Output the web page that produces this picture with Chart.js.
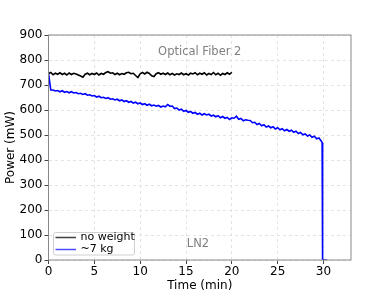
<!DOCTYPE html>
<html>
<head>
<meta charset="utf-8">
<script src="https://cdn.jsdelivr.net/npm/chart.js@4.4.1/dist/chart.umd.min.js"></script>
<style>
  body { margin: 0; background: #fff; }
  #wrap { width: 390px; height: 293px; }
</style>
</head>
<body>
<div id="wrap"><canvas id="powerChart" width="390" height="293"></canvas></div>
<script>
// sampling times (min) and measured power (mW)
const timeNoWeight = [
  0, 0.25, 0.5, 0.75, 1, 1.25, 1.5, 1.75, 2, 2.25, 2.5, 2.75, 3, 3.25, 3.5, 3.75,
  4, 4.25, 4.5, 4.75, 5, 5.25, 5.5, 5.75, 6, 6.25, 6.5, 6.75, 7, 7.25, 7.5, 7.75,
  8, 8.25, 8.5, 8.75, 9, 9.25, 9.5, 9.75, 10, 10.25, 10.5, 10.75, 11, 11.25, 11.5, 11.75,
  12, 12.25, 12.5, 12.75, 13, 13.25, 13.5, 13.75, 14, 14.25, 14.5, 14.75, 15, 15.25, 15.5, 15.75,
  16, 16.25, 16.5, 16.75, 17, 17.25, 17.5, 17.75, 18, 18.25, 18.5, 18.75, 19, 19.25, 19.5, 19.75, 20,
];
const powerNoWeight = [
  746, 750, 741, 747, 743, 749, 742, 747, 740, 748, 742, 747, 744, 740, 736, 731,
  743, 747, 741, 746, 742, 748, 740, 746, 743, 750, 753, 747, 749, 742, 747, 741,
  746, 743, 749, 751, 745, 747, 738, 730, 745, 750, 744, 751, 746, 737, 734, 745,
  749, 743, 747, 742, 748, 741, 746, 740, 745, 742, 748, 741, 745, 740, 747, 744,
  749, 741, 747, 743, 749, 740, 746, 742, 750, 741, 747, 739, 746, 742, 749, 743, 751,
];

const timeWeight = [
  0, 0.25, 0.5, 0.75, 1, 1.25, 1.5, 1.75, 2, 2.25, 2.5, 2.75, 3, 3.25, 3.5, 3.75,
  4, 4.25, 4.5, 4.75, 5, 5.25, 5.5, 5.75, 6, 6.25, 6.5, 6.75, 7, 7.25, 7.5, 7.75,
  8, 8.25, 8.5, 8.75, 9, 9.25, 9.5, 9.75, 10, 10.25, 10.5, 10.75, 11, 11.25, 11.5, 11.75,
  12, 12.25, 12.5, 12.75, 13, 13.25, 13.5, 13.75, 14, 14.25, 14.5, 14.75, 15, 15.25, 15.5, 15.75,
  16, 16.25, 16.5, 16.75, 17, 17.25, 17.5, 17.75, 18, 18.25, 18.5, 18.75, 19, 19.25, 19.5, 19.75,
  20, 20.25, 20.5, 20.75, 21, 21.25, 21.5, 21.75, 22, 22.25, 22.5, 22.75, 23, 23.25, 23.5, 23.75,
  24, 24.25, 24.5, 24.75, 25, 25.25, 25.5, 25.75, 26, 26.25, 26.5, 26.75, 27, 27.25, 27.5, 27.75,
  28, 28.25, 28.5, 28.75, 29, 29.25, 29.5, 29.75, 29.85, 29.9, 30.4,
];
const powerWeight = [
  748, 680, 680, 676, 678, 673, 677, 671, 674, 669, 673, 668, 670, 665, 667, 662,
  665, 659, 661, 656, 658, 652, 655, 649, 651, 646, 649, 643, 645, 640, 643, 637,
  640, 634, 637, 631, 634, 628, 631, 625, 628, 622, 625, 619, 623, 617, 620, 615,
  618, 612, 616, 613, 622, 615, 616, 606, 608, 600, 603, 595, 598, 591, 594, 587,
  590, 583, 587, 580, 585, 580, 583, 576, 579, 573, 577, 569, 574, 567, 570, 562,
  569, 567, 575, 563, 566, 557, 561, 559, 558, 549, 551, 542, 546, 537, 541, 532,
  536, 529, 533, 524, 529, 521, 525, 517, 522, 515, 519, 511, 515, 506, 510, 501,
  504, 496, 500, 491, 495, 485, 488, 476, 470, 0, 0,
];

const seriesLabels = ['no weight', '~7 kg'];
const seriesColors = ['#000000', '#0000ff'];
const legendColors = ['rgba(0,0,0,0.75)', 'rgba(0,0,255,0.7)'];
const annotations = [
  { text: 'Optical Fiber 2', x: 16.5, y: 830 },
  { text: 'LN2', x: 16.3, y: 62 },
];

const FONT = 'DejaVu Sans';

function toPoints(xs, ys) {
  return xs.map((x, i) => ({ x, y: ys[i] }));
}

const overlay = {
  id: 'overlay',
  afterDatasetsDraw(chart) {
    const { ctx, chartArea, scales } = chart;
    ctx.save();
    // frame
    ctx.strokeStyle = '#888';
    ctx.lineWidth = 1;
    ctx.strokeRect(chartArea.left, chartArea.top, chartArea.right - chartArea.left, chartArea.bottom - chartArea.top);

    // annotation texts
    ctx.fillStyle = '#808080';
    ctx.font = `11.5px "${FONT}"`;
    ctx.textAlign = 'center';
    ctx.textBaseline = 'middle';
    annotations.forEach(a => {
      ctx.fillText(a.text, scales.x.getPixelForValue(a.x), scales.y.getPixelForValue(a.y));
    });

    // legend box, lower left
    const bx = chartArea.left + 5, by = chartArea.bottom - 27.5, bw = 81, bh = 22.5;
    ctx.beginPath();
    ctx.roundRect(bx, by, bw, bh, 2);
    ctx.fillStyle = 'rgba(255,255,255,0.8)';
    ctx.fill();
    ctx.strokeStyle = '#d0d0d0';
    ctx.stroke();
    ctx.font = `11px "${FONT}"`;
    ctx.textAlign = 'left';
    seriesLabels.forEach((label, i) => {
      const ly = by + 5 + i * 12;
      ctx.strokeStyle = legendColors[i];
      ctx.lineWidth = 1.5;
      ctx.beginPath();
      ctx.moveTo(bx + 2, ly);
      ctx.lineTo(bx + 22.5, ly);
      ctx.stroke();
      ctx.fillStyle = '#000';
      ctx.fillText(label, bx + 27, ly);
    });
    ctx.restore();
  },
};

const tickFont = { family: FONT, size: 12 };

new Chart(document.getElementById('powerChart').getContext('2d'), {
  type: 'line',
  data: {
    datasets: [
      {
        label: seriesLabels[0],
        data: toPoints(timeNoWeight, powerNoWeight),
        borderColor: seriesColors[0],
        borderWidth: 1.6,
        pointRadius: 0,
        tension: 0,
      },
      {
        label: seriesLabels[1],
        data: toPoints(timeWeight, powerWeight),
        borderColor: seriesColors[1],
        borderWidth: 1.6,
        pointRadius: 0,
        tension: 0,
      },
    ],
  },
  options: {
    responsive: false,
    animation: false,
    events: [],
    layout: { padding: { left: 0, top: 35, right: 39, bottom: 0 } },
    scales: {
      x: {
        type: 'linear',
        min: 0,
        max: 33,
        afterFit: scale => { scale.height = 33; },
        ticks: { stepSize: 5, includeBounds: false, color: '#000', font: tickFont, padding: 1, maxRotation: 0 },
        grid: { color: '#e3e3e3', tickColor: '#444', tickLength: 4 },
        border: { display: false, dash: [3, 3] },
        title: { display: true, text: 'Time (min)', color: '#000', font: tickFont, padding: { top: 0, bottom: 0 } },
      },
      y: {
        min: 0,
        max: 900,
        afterFit: scale => { scale.width = 48.5; },
        ticks: { stepSize: 100, color: '#000', font: tickFont, padding: 2 },
        grid: { color: '#e3e3e3', tickColor: '#444', tickLength: 4 },
        border: { display: false, dash: [3, 3] },
        title: { display: true, text: 'Power (mW)', color: '#000', font: tickFont, padding: { top: 4, bottom: 0 } },
      },
    },
    plugins: {
      legend: { display: false },
      tooltip: { enabled: false },
    },
  },
  plugins: [overlay],
});
</script>
</body>
</html>
